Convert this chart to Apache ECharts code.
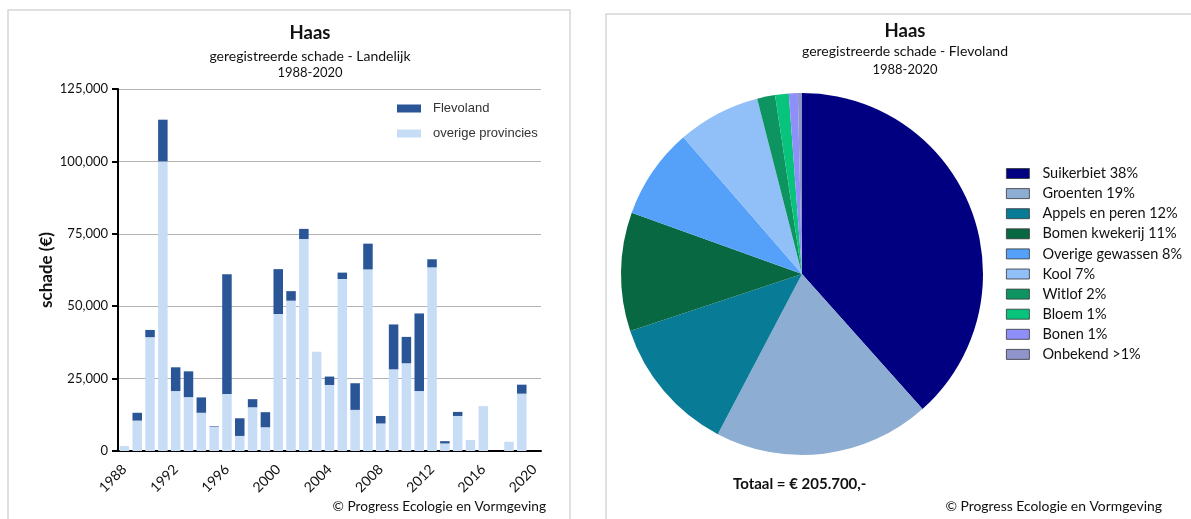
<!DOCTYPE html>
<html>
<head>
<meta charset="utf-8">
<script src="https://cdn.jsdelivr.net/npm/echarts@6/dist/echarts.min.js"></script>
<style>
  html, body { margin: 0; padding: 0; background: #fff; }
  #chart { width: 1191px; height: 519px; }
</style>
</head>
<body>
<div id="chart"></div>
<script>
// Registered hare damage per year (euro), national total split into Flevoland and other provinces
var years = ['1988','1989','1990','1991','1992','1993','1994','1995','1996','1997','1998',
             '1999','2000','2001','2002','2003','2004','2005','2006','2007','2008','2009',
             '2010','2011','2012','2013','2014','2015','2016','2017','2018','2019','2020'];
var flevoland = [0, 2700, 2500, 14400, 8200, 8900, 5300, 200, 41300, 6100, 2800,
                 5200, 15500, 3300, 3500, 0, 2900, 2200, 9200, 8900, 2600, 15500,
                 9100, 26800, 2800, 800, 1400, 0, 0, 0, 0, 3100, 0];
var overige = [1700, 10500, 39300, 100000, 20700, 18600, 13200, 8300, 19700, 5200, 15100,
               8200, 47300, 51900, 73200, 34300, 22800, 59400, 14200, 62700, 9500, 28200,
               30300, 20700, 63400, 2600, 12100, 3800, 15500, 0, 3200, 19800, 0];
var yTicks = [0, 25000, 50000, 75000, 100000, 125000];

// Flevoland damage by crop (euro)
var crops = ['Suikerbiet 38%', 'Groenten 19%', 'Appels en peren 12%', 'Bomen kwekerij 11%',
             'Overige gewassen 8%', 'Kool 7%', 'Witlof 2%', 'Bloem 1%', 'Bonen 1%', 'Onbekend >1%'];
var cropDamage = [79000, 39700, 25100, 21800, 16700, 15200, 3300, 2500, 1650, 750];
var cropColors = ['#000080', '#8eadd3', '#087c96', '#076842', '#55a1f9', '#91c0f8',
                  '#0d9460', '#08c37b', '#8f8ffa', '#8f94cb'];

var calibri = 'Lato, "Noto Sans", sans-serif';
var arial = '"Liberation Sans", Arial, sans-serif';

function thousands(v) {
  return String(v).replace(/\B(?=(\d{3})+(?!\d))/g, ',');
}
function euroNl(v) {
  return String(v).replace(/\B(?=(\d{3})+(?!\d))/g, '.');
}
var total = cropDamage.reduce(function (a, b) { return a + b; }, 0);

var chart = echarts.init(document.getElementById('chart'), null, { renderer: 'canvas' });

function text(x, y, str, size, weight, align) {
  return {
    type: 'text', x: x, y: y, silent: true,
    style: {
      text: str, fill: '#111', font: (weight || 'normal') + ' ' + size + 'px ' + calibri,
      align: align || 'center', verticalAlign: 'middle'
    }
  };
}

chart.setOption({
  animation: false,
  backgroundColor: '#fff',
  graphic: [
    { type: 'rect', silent: true, shape: { x: 8, y: 10, width: 562, height: 530 },
      style: { fill: 'none', stroke: '#d6d6d6', lineWidth: 1.5 } },
    { type: 'rect', silent: true, shape: { x: 606, y: 14, width: 620, height: 530 },
      style: { fill: 'none', stroke: '#d6d6d6', lineWidth: 1.5 } },
    text(310, 33, 'Haas', 18.5, 'bold'),
    text(310, 56, 'geregistreerde schade - Landelijk', 14),
    text(310, 73, '1988-2020', 13),
    text(905, 31, 'Haas', 18.5, 'bold'),
    text(905, 51, 'geregistreerde schade - Flevoland', 14),
    text(905, 70, '1988-2020', 13),
    text(733, 484, 'Totaal = € ' + euroNl(total) + ',-', 15, 'bold', 'left'),
    text(546, 507, '© Progress Ecologie en Vormgeving', 13.7, 'normal', 'right'),
    text(1162, 507, '© Progress Ecologie en Vormgeving', 13.9, 'normal', 'right')
  ],
  legend: [
    {
      data: ['Flevoland', 'overige provincies'],
      orient: 'vertical', left: 392, top: 97,
      icon: 'rect', itemWidth: 24, itemHeight: 8, itemGap: 12,
      textStyle: { fontFamily: arial, fontSize: 13, color: '#333', padding: [0, 0, 0, 7] },
      selectedMode: false
    },
    {
      data: crops,
      orient: 'vertical', left: 1001, top: 161,
      icon: 'rect', itemWidth: 23, itemHeight: 10, itemGap: 5.1,
      itemStyle: { borderColor: '#333', borderWidth: 0.8 },
      textStyle: { fontFamily: calibri, fontSize: 14.5, color: '#111', padding: [0, 0, 0, 8] },
      selectedMode: false
    }
  ],
  grid: { left: 118, top: 89, width: 423, height: 362, containLabel: false },
  xAxis: {
    type: 'category', data: years, boundaryGap: true,
    axisLine: { lineStyle: { color: '#000', width: 2 } },
    axisTick: { alignWithLabel: true, interval: 3, length: 6, lineStyle: { color: '#000', width: 2 } },
    axisLabel: { interval: 3, rotate: 45, margin: 16, fontFamily: calibri, fontSize: 14, color: '#111' }
  },
  yAxis: {
    type: 'value', min: yTicks[0], max: yTicks[yTicks.length - 1], interval: yTicks[1] - yTicks[0],
    name: 'schade (€)', nameLocation: 'middle', nameGap: 63, nameRotate: 90,
    nameTextStyle: { fontFamily: calibri, fontSize: 17, fontWeight: 'bold', color: '#111' },
    axisLine: { show: true, lineStyle: { color: '#000', width: 2 } },
    axisTick: { show: true, length: 6, lineStyle: { color: '#000', width: 2 } },
    axisLabel: { formatter: thousands, margin: 10, fontFamily: calibri, fontSize: 13, color: '#111' },
    splitLine: { lineStyle: { color: '#b3b3b3', width: 1 } }
  },
  series: [
    {
      name: 'overige provincies', type: 'bar', stack: 'schade', data: overige,
      barWidth: 9.5, itemStyle: { color: '#c7ddf6' }
    },
    {
      name: 'Flevoland', type: 'bar', stack: 'schade', data: flevoland,
      barWidth: 9.5, itemStyle: { color: '#2a5596' }
    },
    {
      name: 'gewassen', type: 'pie', center: [802, 274], radius: 181,
      startAngle: 90, clockwise: true, label: { show: false }, labelLine: { show: false },
      itemStyle: { borderWidth: 0 },
      emphasis: { disabled: true },
      data: crops.map(function (c, i) {
        return { name: c, value: cropDamage[i], itemStyle: { color: cropColors[i] } };
      })
    }
  ]
});
</script>
</body>
</html>
